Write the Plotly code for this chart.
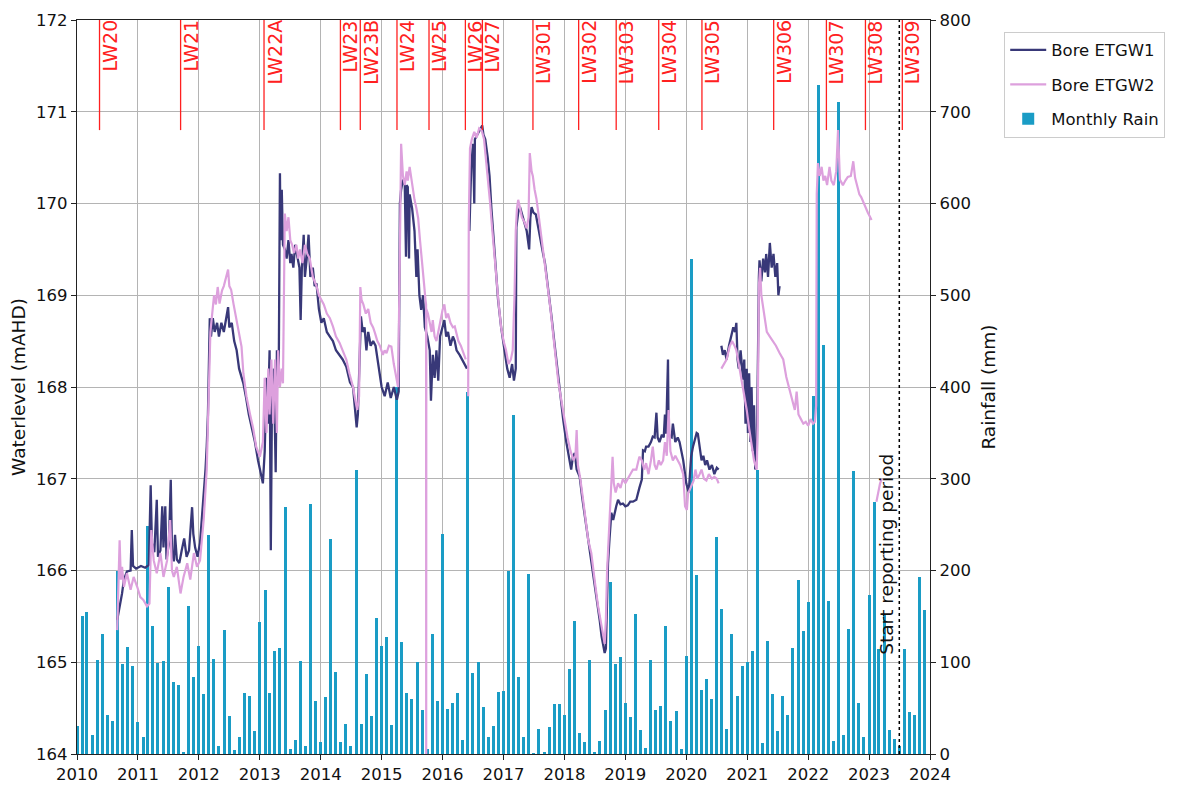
import datetime as dt
import pandas as pd
import plotly.graph_objects as go

# ---------------- data ----------------
# Monthly rainfall (mm), Jan 2010 .. Dec 2023
rain = [30, 150, 155, 21, 103, 131, 43, 36, 200, 98, 117, 96,
        35, 19, 248, 140, 99, 101, 182, 78, 75, 2, 161, 84,
        118, 65, 239, 104, 9, 135, 41, 4, 19, 66, 63, 25,
        144, 179, 67, 112, 116, 269, 5, 15, 101, 9, 273, 58,
        13, 62, 234, 89, 13, 33, 9, 310, 33, 87, 41, 148,
        118, 127, 32, 400, 122, 67, 60, 100, 48, 5, 131, 58,
        240, 49, 56, 66, 15, 395, 88, 100, 51, 19, 30, 68,
        69, 200, 370, 84, 18, 196, 1, 27, 2, 29, 54, 54,
        42, 93, 145, 23, 13, 103, 2, 14, 48, 187, 98, 106,
        56, 40, 153, 26, 7, 102, 48, 52, 140, 36, 47, 5,
        107, 540, 195, 70, 82, 60, 237, 158, 27, 131, 63, 96,
        100, 112, 310, 12, 123, 65, 25, 63, 43, 115, 190, 134,
        166, 390, 729, 446, 167, 14, 711, 21, 136, 308, 56, 19,
        173, 275, 114, 151, 26, 16, 9, 114, 46, 43, 193, 157]
rain_start = "2010-01-01"

# Bore ETGW1 water level (decimal year, mAHD); None = gap
etgw1_t = [2010.66, 2010.70, 2010.74, 2010.77, 2010.82, 2010.88, 2010.90, 2010.92, 2010.97, 2011.05,
           2011.12, 2011.18, 2011.21, 2011.23, 2011.27, 2011.31, 2011.33, 2011.37, 2011.40, 2011.42,
           2011.45, 2011.47, 2011.51, 2011.54, 2011.56, 2011.59, 2011.61, 2011.64, 2011.68, 2011.72,
           2011.76, 2011.80, 2011.84, 2011.89, 2011.91, 2011.94, 2011.98, 2012.02, 2012.05, 2012.09,
           2012.11, 2012.13, 2012.15, 2012.17, 2012.18, 2012.20, 2012.23, 2012.26, 2012.30, 2012.33,
           2012.37, 2012.41, 2012.45, 2012.48, 2012.50, 2012.54, 2012.58, 2012.62, 2012.66, 2012.70,
           2012.73, 2012.77, 2012.82, 2012.87, 2012.92, 2012.97, 2013.02, 2013.05, 2013.08, 2013.11,
           2013.13, 2013.16, 2013.18, 2013.20, 2013.23, 2013.26, 2013.28, 2013.31, 2013.33, 2013.34,
           2013.36, 2013.38, 2013.41, 2013.44, 2013.47, 2013.50, 2013.52, 2013.55, 2013.58, 2013.62,
           2013.65, 2013.67, 2013.69, 2013.72, 2013.74, 2013.77, 2013.80, 2013.83, 2013.87, 2013.90,
           2013.93, 2013.97, 2014.01, 2014.05, 2014.10, 2014.15, 2014.20, 2014.25, 2014.31, 2014.36,
           2014.42, 2014.48, 2014.53, 2014.56, 2014.59, 2014.61, 2014.64, 2014.66, 2014.69, 2014.72,
           2014.75, 2014.78, 2014.82, 2014.86, 2014.90, 2014.93, 2014.96, 2015.00, 2015.05, 2015.10,
           2015.15, 2015.20, 2015.25, 2015.28, 2015.30, 2015.32, 2015.35, 2015.38, 2015.40, 2015.41,
           2015.43, 2015.45, 2015.46, 2015.50, 2015.54, 2015.57, 2015.59, 2015.62, 2015.65, 2015.68,
           2015.71, 2015.75, 2015.79, 2015.81, 2015.84, 2015.87, 2015.90, 2015.93, 2015.96, 2016.00,
           2016.03, 2016.06, 2016.09, 2016.13, 2016.17, 2016.20, 2016.23, 2016.28, 2016.33, 2016.38,
           2016.40, None, 2016.44, 2016.47, 2016.50, 2016.52, 2016.53, 2016.57, 2016.61, 2016.65,
           2016.67, 2016.70, 2016.74, 2016.77, 2016.80, 2016.83, 2016.86, 2016.91, 2016.96, 2017.02,
           2017.06, 2017.10, 2017.14, 2017.17, 2017.20, 2017.21, 2017.24, 2017.27, 2017.30, 2017.32,
           2017.35, 2017.38, 2017.42, 2017.44, 2017.46, 2017.49, 2017.53, 2017.57, 2017.59, 2017.62,
           2017.65, 2017.68, 2017.73, 2017.76, 2017.79, 2017.84, 2017.88, 2017.92, 2017.98, 2018.03,
           2018.07, 2018.11, 2018.14, 2018.17, 2018.20, 2018.25, 2018.29, 2018.33, 2018.37, 2018.41,
           2018.45, 2018.49, 2018.52, 2018.55, 2018.58, 2018.61, 2018.64, 2018.66, 2018.68, 2018.69,
           2018.715, 2018.74, 2018.77, 2018.80, 2018.82, 2018.85, 2018.88, 2018.92, 2018.96, 2019.00,
           2019.04, 2019.08, 2019.125, 2019.18, 2019.23, 2019.27, 2019.29, 2019.32, 2019.34, 2019.38,
           2019.42, 2019.45, 2019.48, 2019.51, 2019.53, 2019.56, 2019.60, 2019.63, 2019.65, 2019.67,
           2019.70, 2019.71, 2019.73, 2019.76, 2019.78, 2019.82, 2019.86, 2019.89, 2019.95, 2020.00,
           2020.04, 2020.08, 2020.11, 2020.14, 2020.17, 2020.19, 2020.22, 2020.25, 2020.28, 2020.31,
           2020.34, 2020.38, 2020.42, 2020.46, 2020.50, 2020.53, None, 2020.575, 2020.60, 2020.63,
           2020.66, 2020.70, 2020.73, 2020.77, 2020.80, 2020.82, 2020.84, 2020.86, 2020.89, 2020.93,
           2020.95, 2020.97, 2020.99, 2021.01, 2021.03, 2021.05, 2021.07, 2021.09, 2021.11, 2021.13,
           2021.155, 2021.17, 2021.19, 2021.20, 2021.23, 2021.26, 2021.29, 2021.31, 2021.34, 2021.37,
           2021.40, 2021.43, 2021.46, 2021.49, 2021.51, 2021.53]
etgw1_v = [165.46, 165.60, 165.75, 165.90, 165.99, 166.00, 166.44, 166.05, 166.02, 166.05,
           166.03, 166.06, 166.93, 166.30, 166.20, 166.77, 166.15, 166.22, 166.70, 166.25,
           166.70, 166.12, 166.30, 166.99, 166.20, 166.10, 166.39, 166.12, 166.08, 166.22,
           166.35, 166.15, 166.22, 166.69, 166.40, 166.25, 166.15, 166.30, 166.55, 166.90,
           167.10, 167.35, 167.70, 168.40, 168.75, 168.55, 168.75, 168.60, 168.70, 168.55,
           168.70, 168.60, 168.75, 168.87, 168.65, 168.70, 168.50, 168.40, 168.20, 168.10,
           168.04, 167.90, 167.70, 167.55, 167.40, 167.20, 167.05, 166.95, 167.30, 168.10,
           167.60, 168.40, 166.22, 167.90, 168.20, 167.07, 168.40, 168.10, 170.33, 169.60,
           170.15, 169.55, 169.50, 169.40, 169.60, 169.35, 169.45, 169.30, 169.55, 169.40,
           169.30, 168.73, 169.30, 169.66, 169.20, 169.40, 169.66, 169.20, 169.30, 169.10,
           169.13, 168.85, 168.70, 168.75, 168.60, 168.55, 168.50, 168.40, 168.35, 168.30,
           168.22, 168.05, 168.00, 167.80, 167.56, 167.70, 168.50, 168.77, 168.60, 168.65,
           168.40, 168.60, 168.45, 168.50, 168.45, 168.30, 168.20, 168.00, 167.90, 168.05,
           167.88, 168.00, 167.86, 167.95, 170.00, 170.15, 170.26, 170.20, 169.42, 170.20,
           170.18, 169.40, 170.10, 169.95, 169.70, 169.20, 169.50, 169.00, 168.84, 169.00,
           168.65, 168.55, 168.40, 167.85, 168.35, 168.10, 168.40, 168.07, 168.55, 168.65,
           168.73, 168.55, 168.60, 168.45, 168.55, 168.50, 168.40, 168.35, 168.28, 168.22,
           168.20, None, 169.70, 170.40, 170.65, 170.00, 170.70, 170.75, 170.80, 170.85,
           170.75, 170.70, 170.50, 170.30, 169.95, 169.68, 169.35, 168.95, 168.65, 168.37,
           168.20, 168.10, 168.25, 168.07, 168.20, 169.74, 169.90, 169.96, 169.88, 169.85,
           169.78, 169.70, 169.50, 169.85, 169.96, 169.90, 169.88, 169.75, 169.68, 169.55,
           169.45, 169.35, 169.10, 168.95, 168.75, 168.45, 168.20, 167.95, 167.64, 167.40,
           167.25, 167.10, 167.25, 167.28, 167.10, 167.02, 166.80, 166.62, 166.45, 166.26,
           166.05, 165.90, 165.75, 165.60, 165.45, 165.28, 165.18, 165.10, 165.15, 165.55,
           166.08, 166.35, 166.63, 166.55, 166.62, 166.70, 166.77, 166.72, 166.73, 166.70,
           166.71, 166.75, 166.75, 166.77, 166.90, 166.99, 167.31, 167.30, 167.35, 167.35,
           167.40, 167.46, 167.45, 167.72, 167.45, 167.40, 167.48, 167.45, 167.70, 167.49,
           168.30, 167.50, 167.46, 167.45, 167.60, 167.40, 167.45, 167.40, 167.20, 166.95,
           166.85, 167.24, 167.35, 167.42, 167.50, 167.49, 167.35, 167.20, 167.25, 167.15,
           167.20, 167.10, 167.15, 167.05, 167.12, 167.10, None, 168.45, 168.35, 168.40,
           168.30, 168.45, 168.55, 168.65, 168.60, 168.70, 168.30, 168.20, 168.40, 168.08,
           168.30, 167.60, 168.20, 167.50, 168.15, 167.40, 168.00, 167.30, 167.80, 167.10,
           167.20, 168.50, 169.20, 169.38, 169.15, 169.40, 169.25, 169.45, 169.20, 169.57,
           169.30, 169.45, 169.20, 169.35, 169.00, 169.10]

# Bore ETGW2 water level (decimal year, mAHD); None = gap
etgw2_t = [2010.66, 2010.70, 2010.72, 2010.74, 2010.77, 2010.82, 2010.88, 2010.93, 2010.99, 2011.04,
           2011.09, 2011.15, 2011.19, 2011.22, 2011.26, 2011.31, 2011.37, 2011.42, 2011.48, 2011.53,
           2011.56, 2011.59, 2011.64, 2011.70, 2011.75, 2011.81, 2011.86, 2011.92, 2011.97, 2012.02,
           2012.08, 2012.13, 2012.15, 2012.17, 2012.19, 2012.22, 2012.25, 2012.28, 2012.31, 2012.34,
           2012.38, 2012.41, 2012.45, 2012.48, 2012.50, 2012.53, 2012.57, 2012.61, 2012.66, 2012.70,
           2012.73, 2012.78, 2012.84, 2012.89, 2012.94, 2013.00, 2013.05, 2013.08, 2013.11, 2013.14,
           2013.16, 2013.19, 2013.22, 2013.25, 2013.28, 2013.30, 2013.33, 2013.36, 2013.38, 2013.41,
           2013.44, 2013.47, 2013.50, 2013.53, 2013.56, 2013.60, 2013.63, 2013.66, 2013.70, 2013.74,
           2013.78, 2013.82, 2013.87, 2013.93, 2013.97, 2014.01, 2014.05, 2014.10, 2014.15, 2014.20,
           2014.25, 2014.31, 2014.36, 2014.42, 2014.47, 2014.53, 2014.57, 2014.60, 2014.63, 2014.65,
           2014.67, 2014.70, 2014.74, 2014.78, 2014.82, 2014.86, 2014.89, 2014.93, 2014.97, 2015.02,
           2015.05, 2015.08, 2015.12, 2015.16, 2015.20, 2015.24, 2015.27, 2015.30, 2015.32, 2015.35,
           2015.38, 2015.41, 2015.43, 2015.46, 2015.50, 2015.54, 2015.57, 2015.60, 2015.63, 2015.66,
           2015.68, 2015.70, 2015.72, 2015.730, 2015.732, 2015.734, 2015.76, 2015.79, 2015.82, 2015.84,
           2015.87, 2015.90, 2015.93, 2015.96, 2016.00, 2016.03, 2016.06, 2016.09, 2016.13, 2016.17,
           2016.20, 2016.23, 2016.26, 2016.30, 2016.34, 2016.38, None, 2016.42, 2016.43, 2016.45,
           2016.48, 2016.52, 2016.56, 2016.60, 2016.64, 2016.68, 2016.72, 2016.75, 2016.78, 2016.81,
           2016.84, 2016.88, 2016.92, 2016.96, 2017.00, 2017.04, 2017.08, 2017.12, 2017.15, 2017.18,
           2017.20, 2017.22, 2017.24, 2017.27, 2017.30, 2017.34, 2017.38, 2017.41, 2017.43, 2017.46,
           2017.48, 2017.51, 2017.54, 2017.57, 2017.60, 2017.62, 2017.66, 2017.70, 2017.73, 2017.77,
           2017.81, 2017.85, 2017.90, 2017.95, 2018.00, 2018.05, 2018.10, 2018.15, 2018.18, 2018.20,
           2018.22, 2018.26, 2018.30, 2018.34, 2018.39, 2018.44, 2018.47, 2018.51, 2018.55, 2018.59,
           2018.63, 2018.66, 2018.68, 2018.70, 2018.74, 2018.77, 2018.79, 2018.81, 2018.84, 2018.88,
           2018.92, 2018.96, 2019.00, 2019.04, 2019.08, 2019.125, 2019.18, 2019.23, 2019.27, 2019.31,
           2019.34, 2019.38, 2019.42, 2019.45, 2019.48, 2019.51, 2019.55, 2019.58, 2019.62, 2019.65,
           2019.68, 2019.71, 2019.74, 2019.78, 2019.82, 2019.86, 2019.90, 2019.95, 2019.98, 2020.01,
           2020.03, 2020.07, 2020.12, 2020.15, 2020.18, 2020.22, 2020.25, 2020.29, 2020.33, 2020.37,
           2020.42, 2020.46, 2020.50, 2020.53, None, 2020.575, 2020.62, 2020.66, 2020.71, 2020.75,
           2020.79, 2020.82, 2020.86, 2020.90, 2020.95, 2020.99, 2021.03, 2021.07, 2021.11, 2021.155,
           2021.17, 2021.19, 2021.21, 2021.23, 2021.26, 2021.29, 2021.32, 2021.37, 2021.42, 2021.47,
           2021.53, 2021.59, 2021.64, 2021.68, 2021.72, 2021.75, 2021.78, 2021.81, 2021.84, 2021.88,
           2021.92, 2021.96, 2022.00, 2022.04, 2022.08, 2022.11, 2022.13, 2022.14, 2022.16, 2022.19,
           2022.22, 2022.25, 2022.28, 2022.31, 2022.35, 2022.38, 2022.42, 2022.46, 2022.49, 2022.52,
           2022.57, 2022.61, 2022.65, 2022.70, 2022.74, 2022.77, 2022.80, 2022.84, 2022.87, 2022.91,
           2022.94, 2022.98, 2023.01, 2023.04, None, 2023.12, 2023.15, 2023.18, 2023.21]
etgw2_v = [165.35, 166.33, 165.90, 166.04, 165.82, 165.97, 165.79, 165.93, 165.82, 165.71,
           165.68, 165.61, 165.64, 166.44, 166.11, 165.97, 166.19, 165.93, 166.11, 166.55,
           166.00, 165.93, 166.04, 165.75, 165.93, 166.08, 165.90, 166.19, 166.04, 166.11,
           166.55, 167.10, 167.60, 168.20, 168.60, 168.80, 169.00, 168.90, 169.09, 168.91,
           169.05, 169.10, 169.20, 169.28, 169.10, 169.06, 168.90, 168.77, 168.60, 168.44,
           168.15, 167.90, 167.70, 167.55, 167.35, 167.24, 167.40, 168.10, 167.50, 168.20,
           167.70, 168.30, 167.60, 168.30, 167.50, 168.40, 168.00, 168.20, 168.04, 169.89,
           169.70, 169.85, 169.60, 169.55, 169.46, 169.55, 169.40, 169.50, 169.35, 169.55,
           169.45, 169.40, 169.20, 169.10, 169.00, 168.95, 168.90, 168.80, 168.75, 168.66,
           168.55, 168.48, 168.40, 168.30, 168.15, 168.00, 167.85, 167.75, 167.90, 169.09,
           168.95, 168.90, 168.80, 168.85, 168.70, 168.65, 168.59, 168.50, 168.45, 168.35,
           168.40, 168.37, 168.45, 168.44, 168.25, 168.10, 168.00, 169.50, 170.65, 170.30,
           170.20, 170.35, 170.25, 170.40, 170.20, 170.04, 169.95, 169.84, 169.60, 169.40,
           169.30, 169.10, 168.95, 168.90, 164.00, 168.85, 168.80, 168.70, 168.60, 168.73,
           168.55, 168.50, 168.62, 168.70, 168.84, 168.90, 168.75, 168.80, 168.70, 168.65,
           168.66, 168.58, 168.50, 168.45, 168.37, 168.30, None, 167.90, 169.80, 170.60,
           170.70, 170.78, 170.72, 170.82, 170.80, 170.70, 170.45, 170.20, 170.00, 169.75,
           169.50, 169.20, 168.90, 168.65, 168.50, 168.40, 168.25, 168.30, 168.40, 169.00,
           169.70, 169.95, 170.04, 169.95, 169.85, 169.80, 169.73, 169.85, 170.55, 170.35,
           170.30, 170.15, 170.05, 169.90, 169.75, 169.60, 169.45, 169.25, 169.05, 168.85,
           168.60, 168.35, 168.05, 167.85, 167.65, 167.45, 167.30, 167.20, 167.25, 167.53,
           167.15, 167.00, 166.80, 166.60, 166.33, 166.19, 166.00, 165.82, 165.62, 165.45,
           165.30, 165.20, 165.46, 166.00, 166.55, 166.90, 167.24, 166.95, 166.85, 166.95,
           166.90, 167.00, 166.95, 167.00, 167.05, 167.10, 167.10, 167.24, 167.20, 167.10,
           167.17, 167.05, 167.20, 167.35, 167.15, 167.10, 167.20, 167.15, 167.20, 167.40,
           167.25, 167.75, 167.30, 167.20, 167.25, 167.20, 167.15, 167.05, 166.70, 166.66,
           166.84, 166.90, 166.98, 167.10, 167.00, 167.05, 167.10, 167.00, 166.98, 167.05,
           167.00, 167.02, 167.00, 166.95, None, 168.20, 168.25, 168.30, 168.44, 168.50,
           168.45, 168.40, 168.25, 168.10, 167.90, 167.75, 167.55, 167.35, 167.20, 167.10,
           167.60, 169.10, 169.30, 169.00, 168.85, 168.70, 168.60, 168.55, 168.50, 168.45,
           168.37, 168.30, 168.11, 168.00, 167.90, 167.80, 167.75, 167.95, 167.70, 167.65,
           167.60, 167.62, 167.58, 167.65, 167.60, 167.62, 167.80, 170.10, 170.44, 170.30,
           170.40, 170.25, 170.30, 170.20, 170.40, 170.25, 170.20, 170.35, 170.80, 170.26,
           170.20, 170.25, 170.29, 170.30, 170.46, 170.28, 170.20, 170.10, 170.07, 170.00,
           169.97, 169.90, 169.86, 169.82, None, 166.75, 166.85, 166.95, 167.00]

# Longwall panel start dates
lw_names = ["LW20", "LW21", "LW22A", "LW23", "LW23B", "LW24", "LW25", "LW26", "LW27",
            "LW301", "LW302", "LW303", "LW304", "LW305", "LW306", "LW307", "LW308", "LW309"]
lw_dates = ["2010-05-16", "2011-09-14", "2013-01-26", "2014-04-29", "2014-08-26", "2015-04-03",
            "2015-10-12", "2016-05-17", "2016-08-27", "2017-06-26", "2018-03-27", "2018-11-07",
            "2019-07-20", "2020-04-04", "2021-06-08", "2022-04-20", "2022-12-10", "2023-07-19"]
report_start = "2023-07-01"
report_label = "Start reporting period"


# ---------------- helpers ----------------
def to_date(t):
    if t is None:
        return None
    y = int(t)
    a = dt.datetime(y, 1, 1)
    b = dt.datetime(y + 1, 1, 1)
    return a + (b - a) * (t - y)


months = pd.date_range(rain_start, periods=len(rain), freq="MS")

FONT = "DejaVu Sans"
C1 = "#383878"
C2 = "#dda0dd"
CB = "#1a9cc5"
RED = "#ff2020"

fig = go.Figure()
fig.add_trace(go.Scatter(x=[to_date(t) for t in etgw1_t], y=etgw1_v, name="Bore ETGW1",
                         mode="lines", line=dict(color=C1, width=2.3), yaxis="y2",
                         connectgaps=False, legendgroup="a"))
fig.add_trace(go.Scatter(x=[to_date(t) for t in etgw2_t], y=etgw2_v, name="Bore ETGW2",
                         mode="lines", line=dict(color=C2, width=2.2), yaxis="y2",
                         connectgaps=False, legendgroup="b"))
fig.add_trace(go.Bar(x=months, y=rain, name="Monthly Rain", marker=dict(color=CB, line=dict(width=0)),
                     width=18 * 86400000, yaxis="y", legendgroup="c"))

shapes = []
annotations = []
for name, d in zip(lw_names, lw_dates):
    shapes.append(dict(type="line", xref="x", yref="y2", x0=d, x1=d, y0=170.8, y1=172,
                       line=dict(color=RED, width=1.3), layer="above"))
    annotations.append(dict(x=d, y=172, xref="x", yref="y2", text=name, showarrow=False,
                            textangle=-90, xanchor="left", yanchor="top", xshift=-3, yshift=2,
                            font=dict(family=FONT, size=19, color=RED)))
shapes.append(dict(type="line", xref="x", yref="paper", x0=report_start, x1=report_start, y0=0, y1=1,
                   line=dict(color="black", width=1.5, dash="dot"), layer="above"))
annotations.append(dict(x=report_start, y=166.18, xref="x", yref="y2", text=report_label,
                        showarrow=False, textangle=-90, xanchor="right", yanchor="middle",
                        xshift=0, font=dict(family=FONT, size=18.5, color="#111")))

axis_common = dict(showline=True, linecolor="#222", linewidth=1.2, mirror=True,
                   ticks="outside", ticklen=5, tickcolor="#222",
                   tickfont=dict(family=FONT, size=16.5, color="#111"),
                   gridcolor="#b4b4b4", gridwidth=1, zeroline=False)

# page body has an 8px margin, so the figure is 8px smaller than the window
fig.update_layout(
    width=1171, height=786,
    margin=dict(l=69, r=249, t=12, b=40, autoexpand=False),
    paper_bgcolor="white", plot_bgcolor="white",
    font=dict(family=FONT, size=16.5, color="#111"),
    bargap=0,
    xaxis=dict(type="date", range=["2010-01-01", "2024-01-01"], dtick="M12", tickformat="%Y",
               showgrid=True, **axis_common),
    yaxis=dict(range=[0, 800], dtick=100, side="right", showgrid=True,
               title=dict(text="Rainfall (mm)", font=dict(family=FONT, size=18.5), standoff=12),
               **axis_common),
    yaxis2=dict(range=[164, 172], dtick=1, side="left", overlaying="y", showgrid=False,
                title=dict(text="Waterlevel (mAHD)", font=dict(family=FONT, size=18.5), standoff=6),
                **axis_common),
    legend=dict(x=1.087, y=0.984, xanchor="left", yanchor="top", bgcolor="white",
                bordercolor="#cccccc", borderwidth=1, font=dict(family=FONT, size=16.5),
                traceorder="grouped", tracegroupgap=10, itemwidth=36),
    shapes=shapes, annotations=annotations,
    showlegend=True,
)

fig.write_html("out.html")
